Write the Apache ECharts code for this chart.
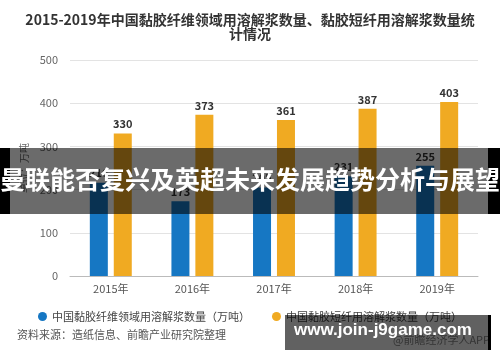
<!DOCTYPE html>
<html><head><meta charset="utf-8">
<script src="https://cdn.jsdelivr.net/npm/echarts@6/dist/echarts.min.js"></script>
<style>html,body{margin:0;padding:0;background:#fff}#c{width:500px;height:362px}</style>
</head><body><div id="c"></div>
<script>
const categories = ['2015年','2016年','2017年','2018年','2019年'];
const viscoseFiberPulp = [216, 173, 205, 231, 255];
const stapleFiberPulp = [330, 373, 361, 387, 403];
const seriesNames = ['中国黏胶纤维领域用溶解浆数量（万吨）','中国黏胶短纤用溶解浆数量（万吨）'];
const yTicks = {min:0, max:500, interval:100};
const F = '"Noto Sans CJK SC", "Microsoft YaHei", sans-serif';

const chart = echarts.init(document.getElementById('c'));
chart.setOption({
  animation:false,
  textStyle:{fontFamily:F},
  title:{
    text:'2015-2019年中国黏胶纤维领域用溶解浆数量、黏胶短纤用溶解浆数量统\n计情况',
    left:'center', top:8,
    textStyle:{fontSize:14, fontWeight:'bold', color:'#333', lineHeight:14, fontFamily:F, align:'center'}
  },
  legend:{
    top:306, left:'center', icon:'circle', itemWidth:9, itemHeight:9, itemGap:22,
    textStyle:{fontSize:11, color:'#444', fontFamily:F},
    data:seriesNames
  },
  grid:{left:70, right:22, top:60, bottom:86},
  xAxis:{
    type:'category', data:categories,
    axisLine:{lineStyle:{color:'#bbb'}},
    axisTick:{alignWithLabel:true, length:4, lineStyle:{color:'#bbb'}},
    axisLabel:{fontSize:11, color:'#555', margin:7, fontFamily:F}
  },
  yAxis:{
    type:'value', min:yTicks.min, max:yTicks.max, interval:yTicks.interval,
    name:'单位：万吨', nameLocation:'middle', nameGap:40,
    nameTextStyle:{fontSize:10, color:'#666', fontFamily:F},
    axisLine:{show:false}, axisTick:{show:false},
    axisLabel:{fontSize:11, color:'#666', margin:12, fontFamily:F},
    splitLine:{lineStyle:{color:'#e3e3e3'}}
  },
  series:[
    {name:seriesNames[0], type:'bar', data:viscoseFiberPulp, barWidth:18, barGap:'33%',
     itemStyle:{color:'#1677c3'},
     label:{show:true, position:'top', fontSize:11, fontWeight:'bold', color:'#333', distance:4}},
    {name:seriesNames[1], type:'bar', data:stapleFiberPulp, barWidth:18,
     itemStyle:{color:'#f0aa22'},
     label:{show:true, position:'top', fontSize:11, fontWeight:'bold', color:'#333', distance:4}}
  ],
  graphic:[
    {type:'text', left:17, top:329, style:{text:'资料来源：造纸信息、前瞻产业研究院整理', fill:'#555', font:'11px '+F}},
    {type:'text', left:393, top:334, style:{text:'@前瞻经济学人APP', fill:'#888', font:'11px '+F}},
    {type:'rect', left:0, top:148, shape:{width:10, height:66}, style:{fill:'#000'}, z:100},
    {type:'rect', left:488, top:148, shape:{width:12, height:66}, style:{fill:'#000'}, z:100},
    {type:'rect', left:10, top:148, shape:{width:478, height:66}, style:{fill:'rgba(0,0,0,0.58)'}, z:100},
    {type:'text', left:'center', top:167, z:101,
     style:{text:'曼联能否复兴及英超未来发展趋势分析与展望', fill:'#fff', font:'bold 25px '+F}},
    {type:'rect', left:285, top:315, shape:{width:203, height:35}, style:{fill:'rgba(0,0,0,0.62)'}, z:100},
    {type:'rect', left:488, top:315, shape:{width:3, height:35}, style:{fill:'#000'}, z:100},
    {type:'text', left:294, top:322, z:101,
     style:{text:'www.join-j9game.com', fill:'#fff', font:'bold 17px "Liberation Sans", Arial, sans-serif'}}
  ]
});
</script></body></html>
